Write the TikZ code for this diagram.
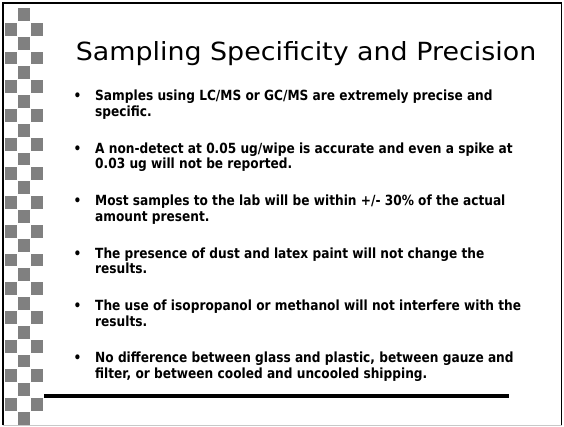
\documentclass[tikz,border=0pt]{standalone}
\usepackage{fontspec}
\newfontfamily\titlefont{DejaVu Sans}[FakeStretch=1.075]
\newfontfamily\bodyfont{DejaVu Sans}[FakeStretch=0.87]
\definecolor{chk}{RGB}{128,128,128}
\definecolor{edge}{RGB}{200,200,200}
\tikzset{
  txt/.style={inner sep=0pt, anchor=base west, font=\bodyfont\bfseries\fontsize{14}{16}\selectfont},
  bul/.style={inner sep=0pt, anchor=base, font=\bodyfont\bfseries\fontsize{14}{16}\selectfont},
  ttl/.style={inner sep=0pt, anchor=base, font=\titlefont\fontsize{25}{29}\selectfont},
  sq/.style={fill=chk, draw=none}
}
\begin{document}
\begin{tikzpicture}[x=1pt,y=-1pt]
\useasboundingbox (0,0) rectangle (564,426);
\fill[white] (0,0) rectangle (564,426);
% checkerboard
\foreach \k in {0,...,28}{
  \pgfmathsetmacro{\yy}{8.3+14.43*\k}
  \ifodd\k
    \fill[sq] (5,\yy) rectangle ++(12,12.8);
    \fill[sq] (31,\yy) rectangle ++(12.3,12.8);
  \else
    \fill[sq] (17.5,\yy) rectangle ++(12.5,12.8);
  \fi
}
% frame
\draw[edge, line width=1.2pt] (3,425.3) -- (561.6,425.3);
\draw[black, line width=1.3pt] (3,425.3) -- (3,3) -- (561.6,3) -- (561.6,425.3);
% title
\node[ttl] (title) at (306,60.7) {Sampling Specificity and Precision};
% bullets
\foreach \i/\b in {1/100.8,2/153.2,3/205.6,4/258,5/310.4,6/362.8}{
  \node[bul] (bul\i) at (77.5,\b) {•};
}
\node[txt] (l1a) at (95,100.8) {Samples using LC/MS or GC/MS are extremely precise and};
\node[txt] (l1b) at (95,116.5) {specific.};
\node[txt] (l2a) at (95,153.2) {A non-detect at 0.05 ug/wipe is accurate and even a spike at};
\node[txt] (l2b) at (95,168.9) {0.03 ug will not be reported.};
\node[txt] (l3a) at (95,205.6) {Most samples to the lab will be within +/- 30\% of the actual};
\node[txt] (l3b) at (95,221.3) {amount present.};
\node[txt] (l4a) at (95,258) {The presence of dust and latex paint will not change the};
\node[txt] (l4b) at (95,273.7) {results.};
\node[txt] (l5a) at (95,310.4) {The use of isopropanol or methanol will not interfere with the};
\node[txt] (l5b) at (95,326.1) {results.};
\node[txt] (l6a) at (95,362.8) {No difference between glass and plastic, between gauze and};
\node[txt] (l6b) at (95,378.5) {filter, or between cooled and uncooled shipping.};
% rule
\coordinate (r1) at (44,396);
\coordinate (r2) at (509,396);
\draw[line width=3.3pt] (r1) -- (r2);
\end{tikzpicture}
\end{document}
